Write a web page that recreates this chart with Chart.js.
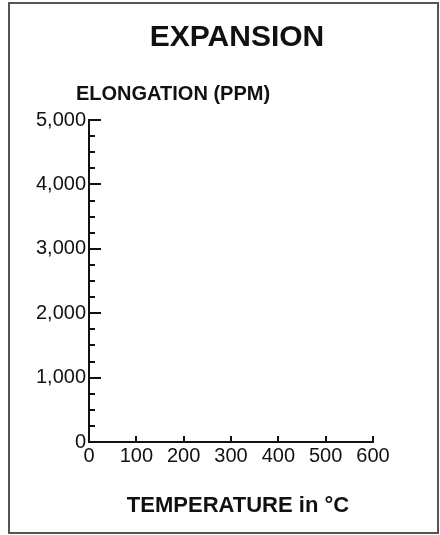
<!DOCTYPE html>
<html>
<head>
<meta charset="utf-8">
<script src="https://cdn.jsdelivr.net/npm/chart.js@4.4.1/dist/chart.umd.min.js"></script>
<style>
  html, body { margin: 0; padding: 0; background: #fff; }
  #wrap { position: relative; width: 440px; height: 535px; }
</style>
</head>
<body>
<div id="wrap"><canvas id="c" width="440" height="535"></canvas></div>
<script>
// ---- chart content ----
const chartTitle = 'EXPANSION';
const yAxisTitle = 'ELONGATION (PPM)';
const xAxisTitle = 'TEMPERATURE in °C';

const xTickValues = [0, 100, 200, 300, 400, 500, 600];
const yMajorTickValues = [0, 1000, 2000, 3000, 4000, 5000];
const yMinorTickValues = [250, 500, 750, 1250, 1500, 1750, 2250, 2500, 2750,
                          3250, 3500, 3750, 4250, 4500, 4750];

// The reference shows empty axes: no curve has been plotted yet.
const temperatureValues = [];
const elongationValues = [];

// ---- drawing ----
const FONT = '"Liberation Sans", Arial, Helvetica, sans-serif';
const INK = '#111';
Chart.defaults.font.family = FONT;
Chart.defaults.color = INK;

const framePlugin = {
  id: 'frame',
  beforeDraw(chart) {
    const ctx = chart.ctx;
    ctx.save();
    ctx.fillStyle = '#fff';
    ctx.fillRect(0, 0, chart.width, chart.height);
    ctx.strokeStyle = '#555';
    ctx.lineWidth = 2;
    ctx.strokeRect(9, 3, 429, 530);
    ctx.restore();
  }
};

const textPlugin = {
  id: 'texts',
  afterDraw(chart) {
    const ctx = chart.ctx;
    ctx.save();
    ctx.fillStyle = INK;
    ctx.textBaseline = 'alphabetic';
    ctx.font = 'bold 30px ' + FONT;
    ctx.textAlign = 'center';
    ctx.fillText(chartTitle, 237, 46);
    ctx.font = 'bold 20px ' + FONT;
    ctx.textAlign = 'left';
    ctx.fillText(yAxisTitle, 76, 100);
    ctx.font = 'bold 22px ' + FONT;
    ctx.textAlign = 'center';
    ctx.fillText(xAxisTitle, 238, 512);
    ctx.restore();
  }
};

const inwardTicksPlugin = {
  id: 'inwardTicks',
  afterDraw(chart) {
    const {ctx, chartArea} = chart;
    const xs = chart.scales.x, ys = chart.scales.y;
    const x0 = chartArea.left, y0 = chartArea.bottom;
    ctx.save();
    ctx.strokeStyle = INK;
    ctx.lineWidth = 2;
    ctx.lineCap = 'butt';
    xTickValues.forEach(v => {
      if (v === xs.min) return;
      const px = Math.round(xs.getPixelForValue(v));
      ctx.beginPath(); ctx.moveTo(px, y0); ctx.lineTo(px, y0 - 6); ctx.stroke();
    });
    yMajorTickValues.forEach(v => {
      if (v === ys.min) return;
      const py = Math.round(ys.getPixelForValue(v));
      ctx.beginPath(); ctx.moveTo(x0, py); ctx.lineTo(x0 + 12, py); ctx.stroke();
    });
    yMinorTickValues.forEach(v => {
      const py = Math.round(ys.getPixelForValue(v));
      ctx.beginPath(); ctx.moveTo(x0, py); ctx.lineTo(x0 + 6, py); ctx.stroke();
    });
    ctx.restore();
  }
};

new Chart(document.getElementById('c'), {
  type: 'scatter',
  data: {
    datasets: [{
      label: 'Elongation',
      data: temperatureValues.map((t, i) => ({x: t, y: elongationValues[i]})),
      borderColor: INK,
      backgroundColor: INK,
      showLine: true,
      pointRadius: 0
    }]
  },
  options: {
    responsive: false,
    animation: false,
    devicePixelRatio: 1,
    layout: { padding: { left: 19, top: 120, right: 67, bottom: 13 } },
    plugins: {
      legend: { display: false },
      title: { display: false },
      tooltip: { enabled: false }
    },
    scales: {
      x: {
        type: 'linear',
        min: 0, max: 600,
        afterBuildTicks: s => { s.ticks = xTickValues.map(v => ({value: v})); },
        ticks: { font: { size: 20 }, color: INK, padding: 2, autoSkip: false, maxRotation: 0 },
        grid: { display: false, drawTicks: false },
        border: { display: true, color: INK, width: 2 },
        afterFit: s => { s.height = 80; }
      },
      y: {
        type: 'linear',
        min: 0, max: 5000,
        afterBuildTicks: s => { s.ticks = yMajorTickValues.map(v => ({value: v})); },
        ticks: { font: { size: 20 }, color: INK, padding: 3, autoSkip: false },
        grid: { display: false, drawTicks: false },
        border: { display: true, color: INK, width: 2 },
        afterFit: s => { s.width = 70; }
      }
    }
  },
  plugins: [framePlugin, inwardTicksPlugin, textPlugin]
});
</script>
</body>
</html>
